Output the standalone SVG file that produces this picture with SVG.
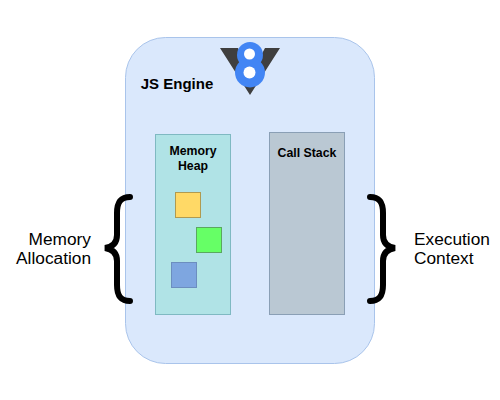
<svg xmlns="http://www.w3.org/2000/svg" width="500" height="400" viewBox="0 0 500 400">
<style>
text{font-family:"Liberation Sans",Arial,sans-serif;fill:#000}
.b{font-weight:bold;font-size:12.300px;text-anchor:middle}
.l{font-size:17.300px;text-anchor:end}
.r{font-size:17.300px;text-anchor:start}
.brace{fill:none;stroke:#000;stroke-width:6;stroke-linecap:round}
</style>
<rect width="500" height="400" fill="#fff"/>
<g id="engine">
<rect x="125.500" y="37.500" width="249" height="326" rx="40" fill="#dae8fc" stroke="#a9c4eb"/>
<text x="177" y="89" font-size="15" font-weight="bold" text-anchor="middle">JS Engine</text>
</g>
<g id="v8-logo">
<path d="M220 48H238L250 76L265 48H280L250 95Z" fill="#3f3f3f"/>
<circle cx="250" cy="55" r="13" fill="#4285f4"/>
<circle cx="250" cy="72.500" r="15" fill="#4285f4"/>
<circle cx="249.500" cy="54" r="5.500" fill="#fff"/>
<circle cx="249.500" cy="72.500" r="6" fill="#fff"/>
</g>
<g id="memory-heap">
<rect x="155.500" y="134.500" width="75" height="180" fill="#b0e3e6" stroke="#7fb9c2"/>
<text class="b" x="193" y="155">Memory</text>
<text class="b" x="193" y="169.500">Heap</text>
</g>
<g id="block-yellow"><rect x="175.500" y="192.500" width="25" height="25" fill="#ffd966" stroke="#b09a50"/></g>
<g id="block-green"><rect x="196.500" y="227.500" width="25" height="25" fill="#66ff66" stroke="#5aa860"/></g>
<g id="block-blue"><rect x="171.500" y="262.500" width="25" height="25" fill="#7ea6e0" stroke="#6c8ebf"/></g>
<g id="call-stack">
<rect x="269.500" y="132.500" width="75" height="182" fill="#bac8d3" stroke="#8a9fb5"/>
<text class="b" x="307" y="157">Call Stack</text>
</g>
<g id="connectors">
<path class="brace" d="M130 197C120 197 117 203 117 213V235C117 243 112 247 105 248C112 249 117 253 117 261V285C117 295 120 301 130 301"/>
<path class="brace" d="M370 197C380 197 383 203 383 213V235C383 243 388 247 395 248C388 249 383 253 383 261V285C383 295 380 301 370 301"/>
</g>
<g id="memory-allocation">
<text class="l" x="91" y="245">Memory</text>
<text class="l" x="91" y="264">Allocation</text>
</g>
<g id="execution-context">
<text class="r" x="414" y="245">Execution</text>
<text class="r" x="414" y="264">Context</text>
</g>
</svg>
